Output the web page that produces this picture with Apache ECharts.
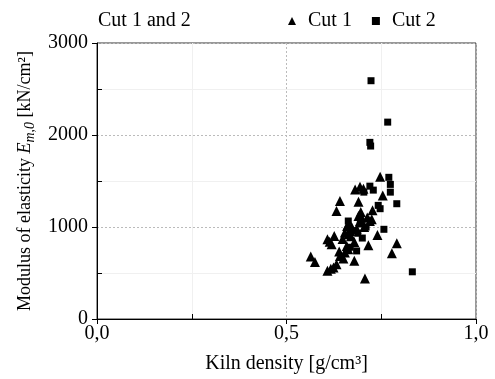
<!DOCTYPE html>
<html>
<head>
<meta charset="utf-8">
<script src="https://cdn.jsdelivr.net/npm/echarts@6/dist/echarts.min.js"></script>
<style>
  html, body { margin: 0; padding: 0; background: #fff; }
  #chart { width: 495px; height: 379px; }
</style>
</head>
<body>
<div id="chart"></div>
<script>
// kiln density [g/cm3], modulus of elasticity [kN/cm2]
const cut1 = [
  [0.564, 680], [0.575, 620], [0.608, 525], [0.617, 545], [0.624, 560],
  [0.632, 596], [0.639, 733], [0.641, 686], [0.650, 657], [0.608, 867],
  [0.619, 813], [0.614, 840], [0.626, 903], [0.632, 1173], [0.641, 1282],
  [0.654, 939], [0.663, 921], [0.668, 957], [0.654, 722], [0.663, 758],
  [0.659, 794], [0.679, 838], [0.679, 632], [0.663, 1029], [0.694, 1065],
  [0.690, 1275], [0.681, 1408], [0.694, 1438], [0.703, 1416], [0.696, 1163],
  [0.690, 1119], [0.698, 1102], [0.713, 1102], [0.725, 1083], [0.720, 1065],
  [0.727, 1181], [0.747, 1546], [0.754, 1343], [0.740, 913], [0.716, 802],
  [0.791, 823], [0.778, 715], [0.707, 441], [0.672, 1000], [0.685, 980],
  [0.700, 1050], [0.705, 1000], [0.648, 870], [0.670, 900], [0.660, 1010]
];
const cut2 = [
  [0.723, 2590], [0.767, 2140], [0.720, 1920], [0.722, 1880], [0.770, 1540],
  [0.774, 1463], [0.774, 1379], [0.791, 1253], [0.704, 1379], [0.720, 1444],
  [0.729, 1401], [0.742, 1235], [0.747, 1199], [0.663, 1065], [0.757, 975],
  [0.688, 932], [0.685, 740], [0.832, 513], [0.695, 1040], [0.710, 1000],
  [0.678, 960], [0.700, 880], [0.668, 780]
];
const seriesNames = ['Cut 1', 'Cut 2'];
const xMinorTicks = [0.25, 0.75];
const yMinorTicks = [500, 1500, 2500];

const font = '"Liberation Serif", "DejaVu Serif", serif';
const chart = echarts.init(document.getElementById('chart'));

chart.setOption({
  animation: false,
  textStyle: { fontFamily: font, color: '#000' },
  title: {
    text: 'Cut 1 and 2',
    left: 93,
    top: 6,
    textStyle: { fontFamily: font, fontSize: 20, fontWeight: 'normal', color: '#000' }
  },
  legend: {
    left: 283,
    top: 6,
    itemGap: 20,
    itemWidth: 8,
    itemHeight: 8,
    textStyle: { fontFamily: font, fontSize: 20, color: '#000', padding: [0, 0, 0, 7] },
    data: [
      { name: seriesNames[0], icon: 'triangle' },
      { name: seriesNames[1], icon: 'rect', itemStyle: { borderWidth: 0 } }
    ]
  },
  grid: {
    left: 97, right: 19, top: 43, bottom: 59,
    show: true, borderColor: '#333', borderWidth: 1
  },
  xAxis: [
    {
      type: 'value', min: 0, max: 1, interval: 0.5,
      name: 'Kiln density [g/cm³]',
      nameLocation: 'middle', nameGap: 35,
      nameTextStyle: { fontFamily: font, fontSize: 20, color: '#000' },
      axisLine: { lineStyle: { color: '#000' } },
      axisTick: { length: 5, lineStyle: { color: '#000' } },
      axisLabel: {
        fontFamily: font, fontSize: 20, color: '#000', margin: 5,
        formatter: v => v.toFixed(1).replace('.', ',')
      },
      splitLine: { show: true, lineStyle: { color: '#bbb', type: [2, 2] } },
      minorTick: { show: false, splitNumber: 2 },
      minorSplitLine: { show: true, lineStyle: { color: '#f0f0f0' } }
    },
    {
      type: 'value', min: 0, max: 1, position: 'bottom',
      axisLine: { show: false },
      axisLabel: { show: false },
      splitLine: { show: false },
      axisTick: { inside: true, length: 5, customValues: xMinorTicks, lineStyle: { color: '#000' } }
    }
  ],
  yAxis: [
    {
      type: 'value', min: 0, max: 3000, interval: 1000,
      name: '{n|Modulus of elasticity }{i|E}{s|m,0}{n| [kN/cm²]}',
      nameLocation: 'middle', nameGap: 55,
      nameTextStyle: {
        fontFamily: font, fontSize: 18, color: '#000',
        rich: {
          n: { fontFamily: font, fontSize: 18, color: '#000' },
          i: { fontFamily: font, fontSize: 18, fontStyle: 'italic', color: '#000' },
          s: { fontFamily: font, fontSize: 14, fontStyle: 'italic', color: '#000', padding: [9, 0, 0, 0] }
        }
      },
      axisLine: { lineStyle: { color: '#000' } },
      axisTick: { length: 5, lineStyle: { color: '#000' } },
      axisLabel: {
        fontFamily: font, fontSize: 20, color: '#000', margin: 9,
        formatter: v => String(v)
      },
      splitLine: { show: true, lineStyle: { color: '#bbb', type: [2, 2] } },
      minorTick: { show: false, splitNumber: 2 },
      minorSplitLine: { show: true, lineStyle: { color: '#f0f0f0' } }
    },
    {
      type: 'value', min: 0, max: 3000, position: 'left',
      axisLine: { show: false },
      axisLabel: { show: false },
      splitLine: { show: false },
      axisTick: { inside: true, length: 5, customValues: yMinorTicks, lineStyle: { color: '#000' } }
    }
  ],
  series: [
    {
      name: seriesNames[0], type: 'scatter', data: cut1,
      symbol: 'triangle', symbolSize: 10,
      itemStyle: { color: '#000', opacity: 1 }
    },
    {
      name: seriesNames[1], type: 'scatter', data: cut2,
      symbol: 'rect', symbolSize: 7,
      itemStyle: { color: '#000', opacity: 1 }
    }
  ]
});
</script>
</body>
</html>
